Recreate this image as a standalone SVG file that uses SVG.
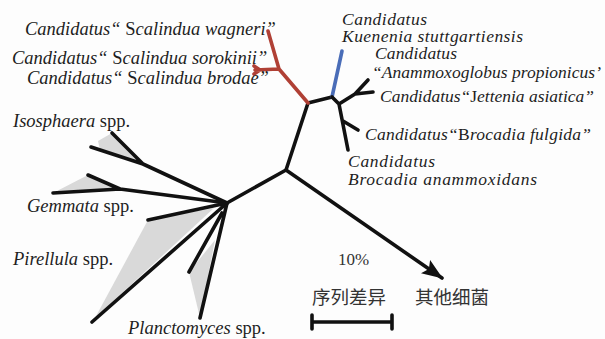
<svg xmlns="http://www.w3.org/2000/svg" width="605" height="339" viewBox="0 0 605 339">
<style>
.t{font-family:"Liberation Serif","DejaVu Serif",serif;font-size:18.5px;fill:#1e1e1e;font-style:italic}
.r{font-size:17.5px}
.n{font-style:normal}
.zh{font-family:"Noto Sans CJK SC","Noto Sans CJK TC",serif;font-size:18.5px;fill:#333}
.num{font-family:"Liberation Serif","DejaVu Serif",serif;font-size:17px;fill:#333}
.br{fill:none;stroke:#111;stroke-width:3.6;stroke-linecap:round;stroke-linejoin:round}
.red{stroke:#b04035}
.blue{stroke:#4a6db8}
.shade{fill:#d9d9d9;stroke:none}
</style>
<defs>
<marker id="ah" markerUnits="userSpaceOnUse" markerWidth="24" markerHeight="20" refX="20" refY="8" orient="auto">
<path d="M0,0 L21,8 L0,16 L4,8 Z" fill="#111"/>
</marker>
</defs>
<rect width="605" height="339" fill="#fdfdfd"/>
<g id="clades">
<polygon class="shade" points="112,133 143,164 100,150 98,141"/>
<polygon class="shade" points="53,193 88,175 120,189"/>
<polygon class="shade" points="148,220 214,208 95,318"/>
<polygon class="shade" points="189,272 200,318 215,240"/>
</g>
<g id="connectors">
<path class="br" d="M227,203 L143,164 L91,147 M143,164 L112,133"/>
<path class="br" d="M227,203 L120,189 L53,193 M120,189 L88,175"/>
<path class="br" d="M227,203 L148,220 M227,203 L92,322"/>
<path class="br" d="M227,203 L200,318 M222,213 L189,272"/>
<path class="br" d="M227,203 L286,170 L308,103 L332,97"/>
<path class="br" d="M286,170 L442,278" marker-end="url(#ah)"/>
<path class="br red" d="M308,103 L279,69 L268,31 M279,69 L255,70 M260,70 L254,66 M260,70 L254,74"/>
<path class="br blue" d="M332,97 L342,51"/>
<path class="br" d="M332,97 L339,104 L355,94 L368,80 M355,94 L373,92 M339,104 L348,150 M343,121 L358,130"/>
<path class="br" d="M312,322 L392,322 M312,315 L312,329 M392,315 L392,329"/>
</g>
<g id="wagneri"><text class="t" x="25" y="35">Candidatus“ <tspan class="n">S</tspan>calindua wagneri”</text></g>
<g id="sorokinii"><text class="t" x="12" y="64">Candidatus“ <tspan class="n">S</tspan>calindua sorokinii”</text></g>
<g id="brodae"><text class="t" x="27" y="84">Candidatus“ <tspan class="n">S</tspan>calindua brodae”</text></g>
<g id="kuenenia"><text class="t r" x="342" y="25" textLength="85">Candidatus</text><text class="t r" x="342" y="42" textLength="181">Kuenenia stuttgartiensis</text></g>
<g id="anammoxoglobus"><text class="t r" x="375" y="59" textLength="82">Candidatus</text><text class="t r" x="372" y="78" textLength="229">“Anammoxoglobus propionicus’</text></g>
<g id="jettenia"><text class="t r" x="380" y="102" textLength="214">Candidatus“<tspan class="n">J</tspan>ettenia asiatica”</text></g>
<g id="fulgida"><text class="t r" x="365" y="140" textLength="226">Candidatus“<tspan class="n">B</tspan>rocadia fulgida”</text></g>
<g id="anammoxidans"><text class="t r" x="348" y="167" textLength="87">Candidatus</text><text class="t r" x="348" y="185" textLength="189">Brocadia anammoxidans</text></g>
<g id="isosphaera"><text class="t" x="13" y="127">Isosphaera<tspan class="n"> spp.</tspan></text></g>
<g id="gemmata"><text class="t" x="27" y="212">Gemmata<tspan class="n"> spp.</tspan></text></g>
<g id="pirellula"><text class="t" x="13" y="265">Pirellula<tspan class="n"> spp.</tspan></text></g>
<g id="planctomyces"><text class="t" x="128" y="334">Planctomyces<tspan class="n"> spp.</tspan></text></g>
<g id="scale"><text class="num" x="338" y="265">10%</text><text class="zh" x="312" y="304">序列差异</text></g>
<g id="other"><text class="zh" x="415" y="304">其他细菌</text></g>
</svg>
